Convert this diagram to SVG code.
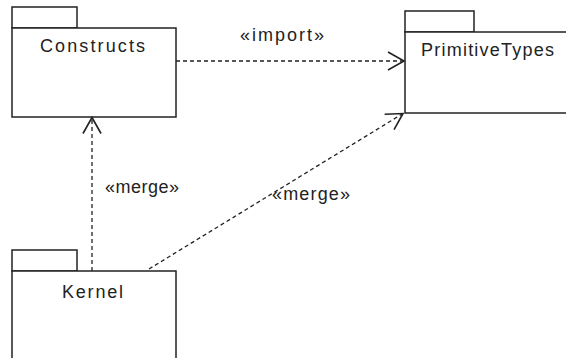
<svg xmlns="http://www.w3.org/2000/svg" width="566" height="358" viewBox="0 0 566 358">
<style>
.box{fill:#fff;stroke:#222;stroke-width:1.5}
.lbl{font-family:"Liberation Sans",Arial,sans-serif;font-size:18px;fill:#222}
.dep{fill:none;stroke:#222;stroke-width:1.3;stroke-dasharray:4 3}
</style>
<defs>
<marker id="open" markerUnits="userSpaceOnUse" markerWidth="24" markerHeight="24" viewBox="-20 -12 24 24" refX="0" refY="0" orient="auto">
<path d="M-16,-9 L0,0 L-16,9" fill="none" stroke="#222" stroke-width="1.6"/>
</marker>
</defs>
<rect width="566" height="358" fill="#fff"/>
<g id="Constructs">
<rect class="box" x="12" y="7" width="65" height="21"/>
<rect class="box" x="12" y="28" width="164" height="89"/>
<text class="lbl" x="40" y="52" textLength="105" lengthAdjust="spacing">Constructs</text>
</g>
<g id="PrimitiveTypes">
<rect class="box" x="405" y="11" width="69" height="21"/>
<rect class="box" x="405" y="32" width="170" height="81"/>
<text class="lbl" x="421" y="55.5" textLength="133" lengthAdjust="spacing">PrimitiveTypes</text>
</g>
<g id="Kernel">
<rect class="box" x="12" y="250" width="65" height="21"/>
<rect class="box" x="12" y="271" width="164" height="100"/>
<text class="lbl" x="62" y="298" textLength="61" lengthAdjust="spacing">Kernel</text>
</g>
<g id="connectors">
<line class="dep" x1="176" y1="61" x2="404" y2="61" marker-end="url(#open)"/>
<text class="lbl" x="240" y="41" textLength="84" lengthAdjust="spacing">«import»</text>
<line class="dep" x1="92" y1="271" x2="92" y2="117.5" marker-end="url(#open)"/>
<text class="lbl" x="105" y="193" textLength="74" lengthAdjust="spacing">«merge»</text>
<line class="dep" x1="149" y1="269" x2="403" y2="113.5" marker-end="url(#open)"/>
<text class="lbl" x="272" y="200" textLength="78" lengthAdjust="spacing">«merge»</text>
</g>
</svg>
